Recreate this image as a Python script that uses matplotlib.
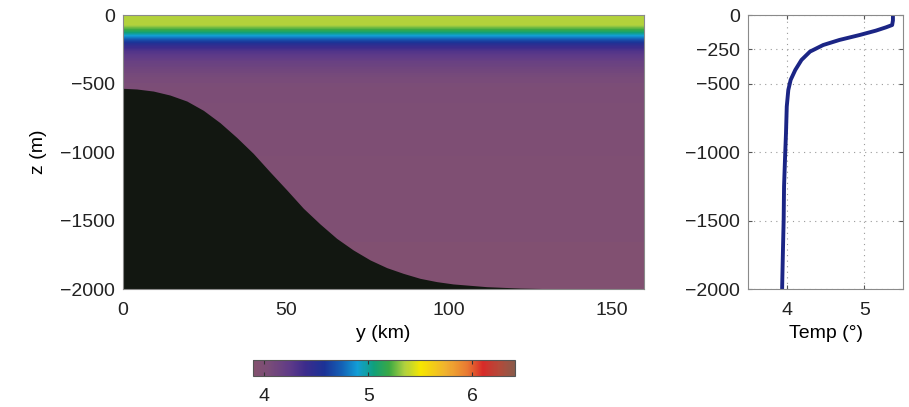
import numpy as np
import matplotlib
matplotlib.use("Agg")
import matplotlib.pyplot as plt
from matplotlib.colors import LinearSegmentedColormap

plt.rcParams['font.family'] = ['Liberation Sans', 'DejaVu Sans']
plt.rcParams['font.size'] = 14
plt.rcParams['axes.edgecolor'] = '#8a8a8a'
plt.rcParams['text.color'] = '#222222'
plt.rcParams['xtick.color'] = '#555555'
plt.rcParams['ytick.color'] = '#555555'
plt.rcParams['xtick.labelcolor'] = '#222222'
plt.rcParams['ytick.labelcolor'] = '#222222'

# temperature profile
z_prof = [0, -40, -73, -90, -114, -146, -182, -219, -267, -328, -401, -474,
          -547, -668, -863, -1008, -1251, -1494, -1737, -2000]
t_prof = [5.37, 5.37, 5.36, 5.28, 5.15, 4.94, 4.68, 4.47, 4.30, 4.19, 4.11, 4.05,
          4.02, 4.00, 3.99, 3.98, 3.965, 3.96, 3.95, 3.94]

# bathymetry (y in km, depth in m)
y_bath = [0, 4.2, 9.3, 14.4, 19.6, 24.7, 29.8, 34.9, 40.0, 45.1, 50.3, 55.4, 60.5,
          65.6, 70.7, 75.9, 81.0, 86.1, 91.2, 96.3, 101.4, 111.7, 121.9, 132, 142, 160]
z_bath = [-535, -540, -555, -584, -628, -696, -786, -893, -1010, -1144, -1277, -1411, -1525,
          -1630, -1715, -1788, -1844, -1886, -1922, -1946, -1963, -1983, -1993, -1998, -2000, -2000]

y_edges = [0, 160]
cbar_ticks = [4, 5, 6]
t_min, t_max = 3.89, 6.41

cmap = LinearSegmentedColormap.from_list('ocean_t', [
    (0.00, '#84526e'), (0.06, '#7a4c78'), (0.14, '#5e3a88'), (0.20, '#3c2c8c'),
    (0.27, '#1c3296'), (0.34, '#1462b6'), (0.40, '#129ed6'), (0.46, '#10a07a'),
    (0.52, '#3aa844'), (0.58, '#aed040'), (0.64, '#f6e600'), (0.74, '#f0b030'),
    (0.82, '#e87832'), (0.88, '#d82a28'), (0.94, '#b44a3a'), (1.00, '#8a5a4a')])

fig = plt.figure(figsize=(9.09, 4.07), dpi=100)
ax = fig.add_axes([0.1353, 0.2899, 0.5732, 0.6732])
ax2 = fig.add_axes([0.8229, 0.2899, 0.1705, 0.6732])
cax = fig.add_axes([0.2783, 0.0762, 0.2882, 0.0393])

# main section: horizontally uniform temperature field
Y, Z = np.meshgrid(y_edges, z_prof)
T = np.tile(np.array(t_prof)[:, None], (1, len(y_edges)))
levels = np.linspace(t_min, t_max, 200)
ax.contourf(Y, Z, T, levels=levels, cmap=cmap, vmin=t_min, vmax=t_max)
ax.fill_between(y_bath, z_bath, -2000, color='#121711', lw=0)
ax.set_xlim(0, 160)
ax.set_ylim(-2000, 0)
ax.set_xticks([0, 50, 100, 150])
ax.set_yticks([0, -500, -1000, -1500, -2000])
ax.set_xlabel('y (km)', labelpad=5)
ax.set_ylabel('z (m)', labelpad=9)
ax.tick_params(direction='in', length=0, pad=6)
ax.tick_params(axis='x', pad=9)

# profile panel
ax2.plot(t_prof, z_prof, color='#1b2585', lw=2.8, solid_capstyle='butt')
ax2.set_xlim(3.5, 5.5)
ax2.set_ylim(-2000, 0)
ax2.set_xticks([4, 5])
ax2.set_yticks([0, -250, -500, -1000, -1500, -2000])
ax2.grid(True, linestyle=(0, (1, 4)), color='#9a9a9a', lw=0.8)
ax2.tick_params(direction='in', length=3, pad=6, top=True, right=True)
ax2.tick_params(axis='x', pad=9)
ax2.set_xlabel('Temp (°)', labelpad=5)

# colorbar
sm = plt.cm.ScalarMappable(cmap=cmap, norm=plt.Normalize(t_min, t_max))
cb = fig.colorbar(sm, cax=cax, orientation='horizontal', ticks=cbar_ticks)
cb.outline.set_edgecolor('#555555')
cax.tick_params(direction='in', length=3, pad=9, top=True, color='#333333')

fig.savefig('out.png', dpi=100)
